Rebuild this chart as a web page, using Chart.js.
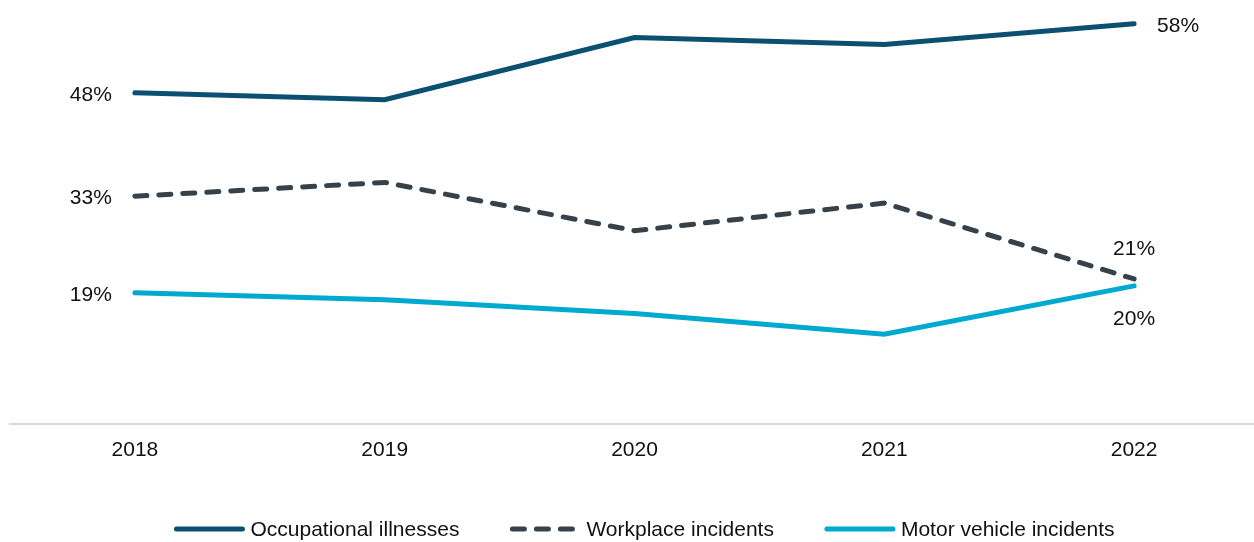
<!DOCTYPE html>
<html>
<head>
<meta charset="utf-8">
<script src="https://cdn.jsdelivr.net/npm/chart.js@4.4.1/dist/chart.umd.min.js"></script>
<style>
  html, body { margin: 0; padding: 0; background: #fff; overflow: hidden; }
  #wrap { width: 1259px; height: 542px; position: relative; }
</style>
</head>
<body>
<div id="wrap"><canvas id="trend-chart"></canvas></div>
<script>
const years = ['2018', '2019', '2020', '2021', '2022'];
const occupationalIllnesses = [48, 47, 56, 55, 58];
const workplaceIncidents = [33, 35, 28, 32, 21];
const motorVehicleIncidents = [19, 18, 16, 13, 20];

const FONT = '"Liberation Sans", Arial, sans-serif';
const TEXT_COLOR = '#111';

// value labels on the first and last point of each line
const pointLabels = {
  id: 'pointLabels',
  afterDatasetsDraw(chart) {
    const { ctx } = chart;
    ctx.save();
    ctx.font = '21px ' + FONT;
    ctx.fillStyle = TEXT_COLOR;
    chart.data.datasets.forEach((ds, i) => {
      const meta = chart.getDatasetMeta(i);
      const first = meta.data[0];
      const last = meta.data[meta.data.length - 1];
      ctx.textBaseline = 'middle';
      ctx.textAlign = 'right';
      ctx.fillText(ds.data[0] + '%', first.x - 23, first.y + 2);
      const txt = ds.data[ds.data.length - 1] + '%';
      if (ds.endLabel === 'right') {
        ctx.textAlign = 'left';
        ctx.fillText(txt, last.x + 23, last.y + 2);
      } else if (ds.endLabel === 'above') {
        ctx.textAlign = 'center';
        ctx.fillText(txt, last.x, last.y - 30);
      } else {
        ctx.textAlign = 'center';
        ctx.fillText(txt, last.x, last.y + 33);
      }
    });
    ctx.restore();
  }
};

// legend row with long line samples
const lineLegend = {
  id: 'lineLegend',
  afterDraw(chart) {
    const { ctx } = chart;
    const sample = 72, gapText = 5, gapItem = 50;
    const y = 529;
    ctx.save();
    ctx.font = '21px ' + FONT;
    const items = chart.data.datasets.map(ds => ({ ds, w: ctx.measureText(ds.label).width }));
    const total = items.reduce((s, it) => s + sample + gapText + it.w, 0) + gapItem * (items.length - 1);
    let x = 644 - total / 2;
    items.forEach(({ ds, w }) => {
      ctx.beginPath();
      ctx.lineWidth = ds.borderWidth;
      ctx.strokeStyle = ds.borderColor;
      ctx.lineCap = 'round';
      ctx.setLineDash(ds.borderDash || []);
      ctx.moveTo(x + 3, y);
      ctx.lineTo(x + sample - 3, y);
      ctx.stroke();
      ctx.setLineDash([]);
      x += sample + gapText;
      ctx.fillStyle = TEXT_COLOR;
      ctx.textAlign = 'left';
      ctx.textBaseline = 'middle';
      ctx.fillText(ds.label, x, y + 1);
      x += w + gapItem;
    });
    ctx.restore();
  }
};

new Chart(document.getElementById('trend-chart'), {
  type: 'line',
  data: {
    labels: years,
    datasets: [
      {
        label: 'Occupational illnesses',
        data: occupationalIllnesses,
        borderColor: '#0b5071',
        borderWidth: 5,
        borderCapStyle: 'round',
        endLabel: 'right',
      },
      {
        label: 'Workplace incidents',
        data: workplaceIncidents,
        borderColor: '#36414a',
        borderWidth: 5,
        borderDash: [12, 12],
        borderCapStyle: 'round',
        endLabel: 'above',
      },
      {
        label: 'Motor vehicle incidents',
        data: motorVehicleIncidents,
        borderColor: '#00a9d0',
        borderWidth: 5,
        borderCapStyle: 'round',
        endLabel: 'below',
      },
    ],
  },
  options: {
    responsive: true,
    maintainAspectRatio: false,
    animation: false,
    layout: { padding: { left: 10, top: 10, right: 0, bottom: 65 } },
    elements: { point: { radius: 0, hoverRadius: 0 }, line: { tension: 0 } },
    plugins: {
      legend: { display: false },
      tooltip: { enabled: false },
    },
    scales: {
      x: {
        offset: true,
        grid: { display: false, drawTicks: false, offset: true },
        border: { display: true, color: '#d9d9d9', width: 2 },
        ticks: { color: TEXT_COLOR, font: { family: FONT, size: 21 }, padding: 14 },
      },
      y: {
        display: false,
        min: 0,
        max: 60,
      },
    },
  },
  plugins: [pointLabels, lineLegend],
});
</script>
</body>
</html>
